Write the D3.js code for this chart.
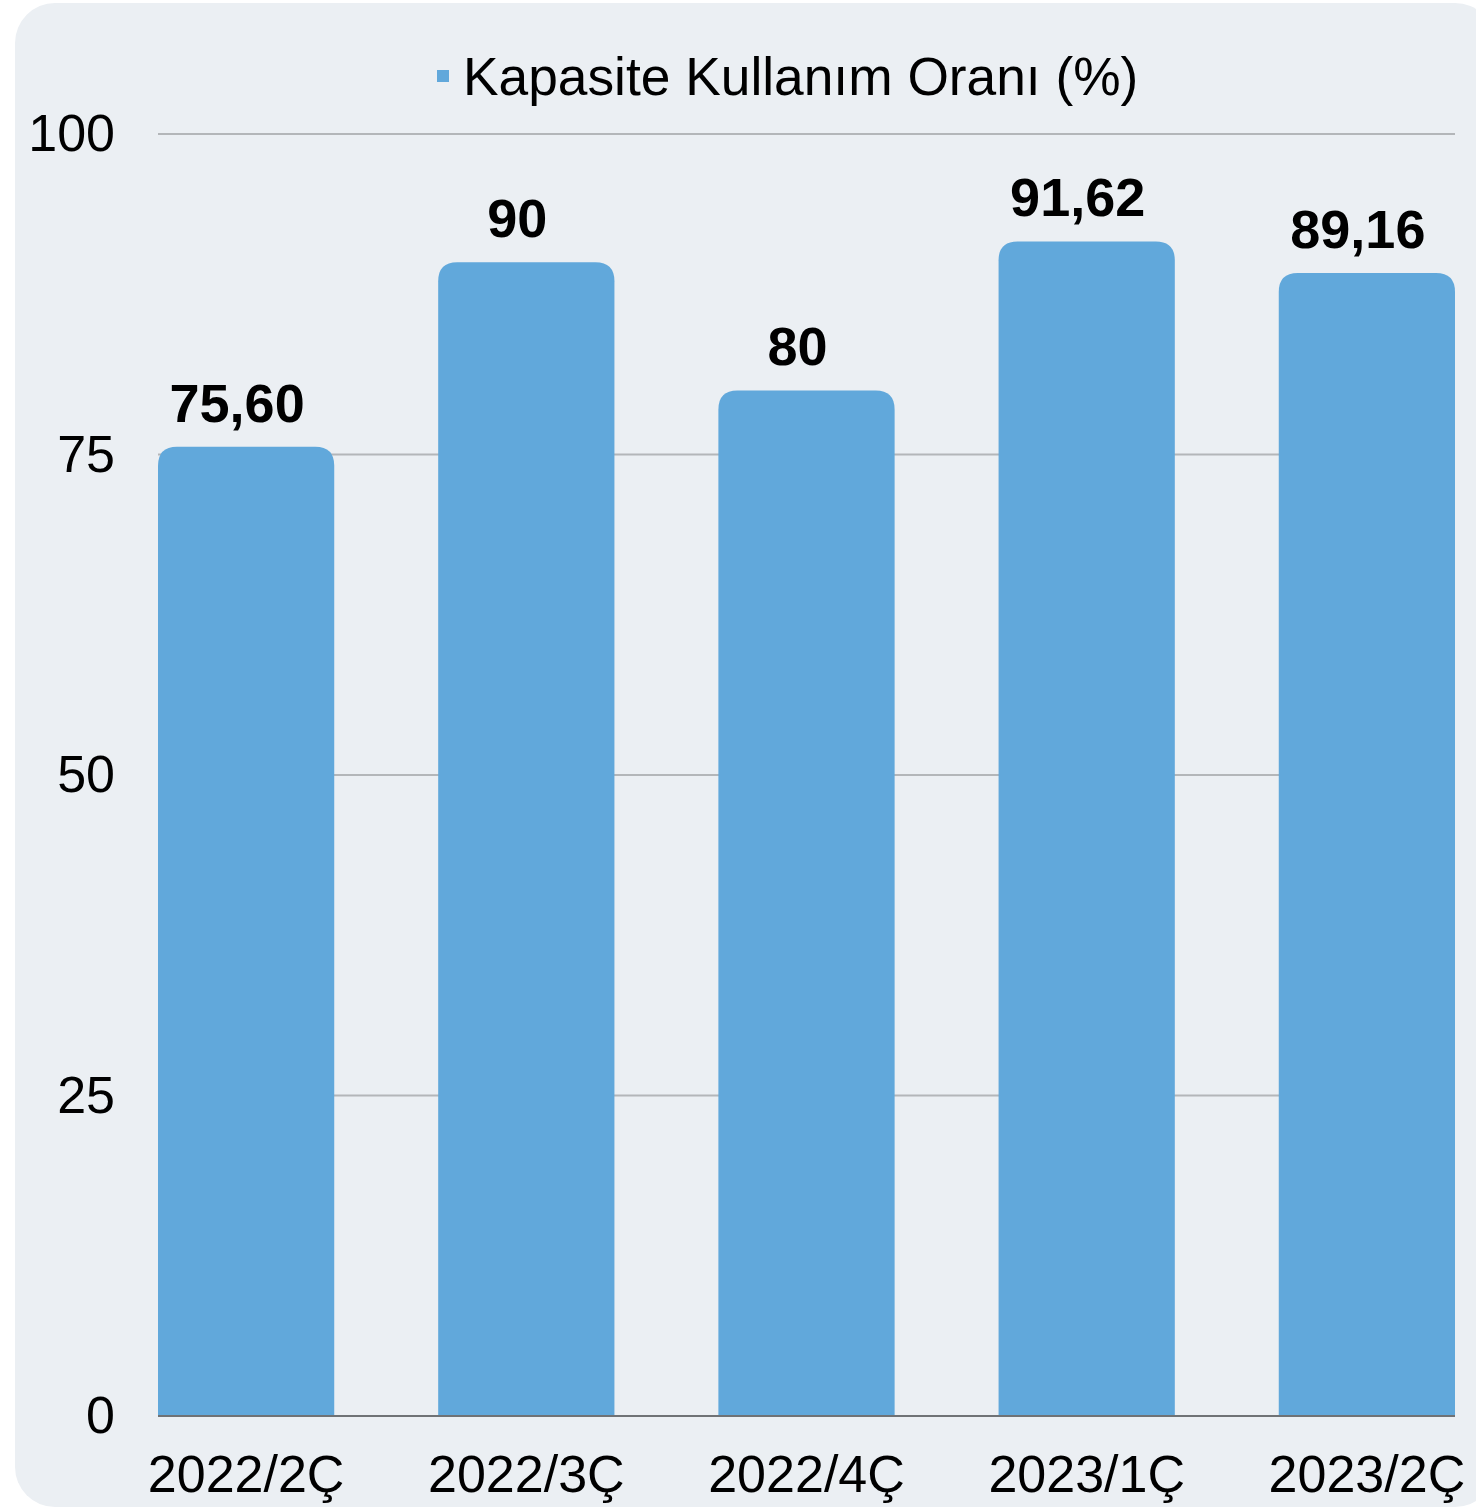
<!DOCTYPE html>
<html>
<head>
<meta charset="utf-8">
<script src="https://cdn.jsdelivr.net/npm/d3@7/dist/d3.min.js"></script>
<style>
  html, body { margin: 0; padding: 0; background: #ffffff; }
  svg { display: block; font-family: "Liberation Sans", Arial, sans-serif; }
</style>
</head>
<body>
<svg id="chart" width="1476" height="1508"></svg>
<script>
// Quarterly capacity utilisation
const categories = ["2022/2Ç", "2022/3Ç", "2022/4Ç", "2023/1Ç", "2023/2Ç"];
const values = [75.60, 90, 80, 91.62, 89.16];
const valueLabels = ["75,60", "90", "80", "91,62", "89,16"];
const yTicks = [0, 25, 50, 75, 100];
const seriesName = "Kapasite Kullanım Oranı (%)";

const barColor = "#61a8db";
const svg = d3.select("#chart");

// panel background
svg.append("rect")
  .attr("x", 15).attr("y", 3)
  .attr("width", 1480).attr("height", 1504)
  .attr("rx", 40).attr("ry", 40)
  .attr("fill", "#ebeff3");

const plotLeft = 158, plotRight = 1455, plotTop = 134, plotBottom = 1416;

const x = d3.scaleBand()
  .domain(categories)
  .range([plotLeft, plotRight])
  .paddingInner(0.371)
  .paddingOuter(0);

const y = d3.scaleLinear().domain([0, 100]).range([plotBottom, plotTop]);

// horizontal gridlines
svg.append("g")
  .selectAll("line")
  .data(yTicks.filter(t => t > 0))
  .join("line")
  .attr("x1", plotLeft).attr("x2", plotRight)
  .attr("y1", d => y(d)).attr("y2", d => y(d))
  .attr("stroke", "#b3b6b9").attr("stroke-width", 2);

// y-axis labels
const yAxis = d3.axisLeft(y).tickValues(yTicks).tickSize(0).tickPadding(0);
const gy = svg.append("g").attr("transform", `translate(115,0)`).call(yAxis);
gy.select(".domain").remove();
gy.selectAll("text")
  .attr("font-size", 52)
  .attr("font-family", "Liberation Sans, Arial, sans-serif")
  .attr("fill", "#000");

// bars with rounded top corners
const r = 19;
function barPath(d, i) {
  const x0 = x(categories[i]), w = x.bandwidth();
  const yt = y(d), yb = y(0);
  return `M${x0},${yb}V${yt + r}Q${x0},${yt} ${x0 + r},${yt}H${x0 + w - r}Q${x0 + w},${yt} ${x0 + w},${yt + r}V${yb}Z`;
}
svg.append("g")
  .selectAll("path")
  .data(values)
  .join("path")
  .attr("d", barPath)
  .attr("fill", barColor);

// baseline
svg.append("line")
  .attr("x1", plotLeft).attr("x2", plotRight)
  .attr("y1", y(0)).attr("y2", y(0))
  .attr("stroke", "#6f7275").attr("stroke-width", 2);

// x-axis labels
const xAxis = d3.axisBottom(x).tickSize(0).tickPadding(0);
const gx = svg.append("g").attr("transform", `translate(0,${y(0)})`).call(xAxis);
gx.select(".domain").remove();
gx.selectAll("text")
  .attr("font-size", 52)
  .attr("font-family", "Liberation Sans, Arial, sans-serif")
  .attr("fill", "#000")
  .attr("dy", null)
  .attr("y", 76);

// value labels above each bar
svg.append("g")
  .selectAll("text")
  .data(values)
  .join("text")
  .attr("x", (d, i) => x(categories[i]) + x.bandwidth() / 2 - 9)
  .attr("y", d => y(d) - 25)
  .attr("text-anchor", "middle")
  .attr("font-size", 54)
  .attr("font-weight", "bold")
  .attr("fill", "#000")
  .text((d, i) => valueLabels[i]);

// legend
const legend = svg.append("g");
legend.append("rect")
  .attr("x", 437).attr("y", 70)
  .attr("width", 12).attr("height", 12)
  .attr("fill", barColor);
legend.append("text")
  .attr("x", 463).attr("y", 95)
  .attr("font-size", 53.3)
  .attr("fill", "#000")
  .text(seriesName);
</script>
</body>
</html>
